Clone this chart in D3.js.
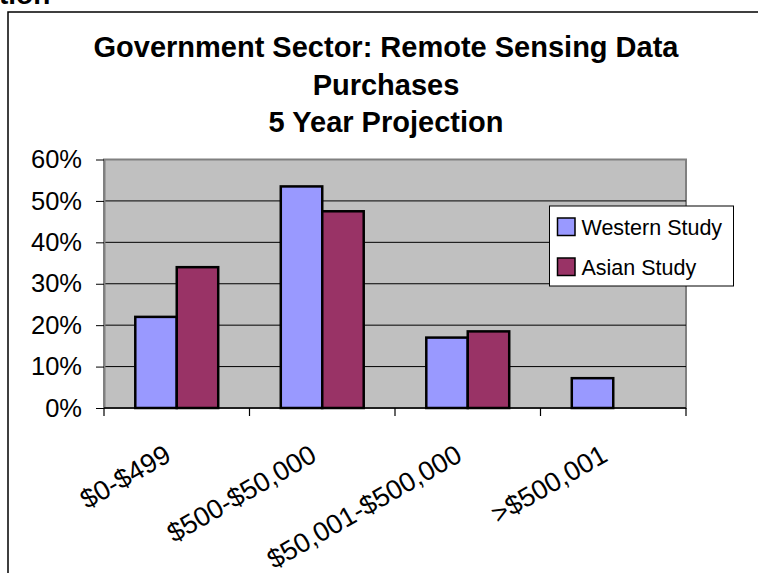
<!DOCTYPE html>
<html>
<head>
<meta charset="utf-8">
<script src="https://cdn.jsdelivr.net/npm/d3@7"></script>
<style>
  html, body { margin: 0; padding: 0; background: #fff; }
  svg { display: block; font-family: Arial, "Liberation Sans", sans-serif; }
</style>
</head>
<body>
<svg id="chart" width="758" height="573"></svg>
<script>
const categories = ["$0-$499", "$500-$50,000", "$50,001-$500,000", ">$500,001"];
const seriesNames = ["Western Study", "Asian Study"];
const western = [22, 53.5, 17, 7.2];
const asian = [34, 47.5, 18.5, null];
const yTicks = [0, 10, 20, 30, 40, 50, 60];
const titleLines = ["Government Sector: Remote Sensing Data", "Purchases", "5 Year Projection"];
const colors = ["#9999FF", "#993366"];

const svg = d3.select("#chart");

// outer frame (extends beyond the captured area)
svg.append("rect").attr("x", 8).attr("y", 12).attr("width", 900).attr("height", 700)
  .attr("fill", "#fff").attr("stroke", "#000").attr("stroke-width", 1.5);

// clipped heading fragment above the frame
svg.append("text").attr("x", -1).attr("y", 4)
  .attr("font-weight", "bold").attr("font-size", 28).text("tion");

const plot = { left: 104, right: 686, top: 159.5, bottom: 408 };

const x0 = d3.scaleBand().domain(categories)
  .range([plot.left, plot.right]).paddingInner(0.43).paddingOuter(0.215);
const x1 = d3.scaleBand().domain(seriesNames).range([0, x0.bandwidth()]);
const y = d3.scaleLinear().domain([0, 60]).range([plot.bottom, plot.top]);

// plot background
svg.append("rect").attr("x", plot.left).attr("y", plot.top)
  .attr("width", plot.right - plot.left).attr("height", plot.bottom - plot.top)
  .attr("fill", "#C0C0C0").attr("stroke", "#808080").attr("stroke-width", 2);

// gridlines
svg.append("g").selectAll("line").data(yTicks.filter(d => d > 0 && d < 60)).join("line")
  .attr("x1", plot.left).attr("x2", plot.right)
  .attr("y1", d => y(d)).attr("y2", d => y(d))
  .attr("stroke", "#000").attr("stroke-width", 1);

// bars
const rows = categories.map((c, i) => ({ cat: c, vals: [western[i], asian[i]] }));
const groups = svg.append("g").selectAll("g").data(rows).join("g")
  .attr("transform", d => `translate(${x0(d.cat)},0)`);
groups.selectAll("rect")
  .data(d => d.vals.map((v, j) => ({ name: seriesNames[j], v, j })).filter(e => e.v != null))
  .join("rect")
  .attr("x", d => x1(d.name)).attr("width", x1.bandwidth())
  .attr("y", d => y(d.v)).attr("height", d => y(0) - y(d.v))
  .attr("fill", d => colors[d.j]).attr("stroke", "#000").attr("stroke-width", 2.5);

// y axis
const yAxis = svg.append("g").attr("transform", `translate(${plot.left},0)`)
  .call(d3.axisLeft(y).tickValues(yTicks).tickFormat(d => d + "%")
    .tickSize(8).tickSizeOuter(0).tickPadding(14));
yAxis.select(".domain").attr("stroke", "#808080").attr("stroke-width", 2);
yAxis.selectAll(".tick line").attr("stroke", "#000");
yAxis.selectAll("text").attr("font-size", 25.5).attr("fill", "#000")
  .attr("font-family", "Arial, 'Liberation Sans', sans-serif");

// x axis: ticks at category boundaries
const gap = (x0.step() - x0.bandwidth()) / 2;
const bounds = categories.map(c => x0(c) - gap).concat([plot.right]);
const xg = svg.append("g");
xg.append("line").attr("x1", plot.left).attr("x2", plot.right)
  .attr("y1", plot.bottom).attr("y2", plot.bottom).attr("stroke", "#000").attr("stroke-width", 1.5);
xg.selectAll("line.tk").data(bounds).join("line").attr("class", "tk")
  .attr("x1", d => d).attr("x2", d => d).attr("y1", plot.bottom).attr("y2", plot.bottom + 8)
  .attr("stroke", "#000").attr("stroke-width", 1.2);
xg.selectAll("text").data(categories).join("text")
  .attr("transform", d => `translate(${x0(d) + x0.bandwidth() / 2 - 4},${plot.bottom + 52}) rotate(-30)`)
  .attr("text-anchor", "end").attr("font-size", 27).attr("fill", "#000").text(d => d);

// title
svg.append("g").selectAll("text").data(titleLines).join("text")
  .attr("x", 386).attr("y", (d, i) => 57 + i * 37.5)
  .attr("text-anchor", "middle").attr("font-weight", "bold").attr("font-size", 29)
  .text(d => d);

// legend
const lg = svg.append("g").attr("transform", "translate(549.5,206)");
lg.append("rect").attr("width", 184).attr("height", 80)
  .attr("fill", "#fff").attr("stroke", "#000").attr("stroke-width", 1);
const li = lg.selectAll("g").data(seriesNames).join("g")
  .attr("transform", (d, i) => `translate(8,${12 + i * 40})`);
li.append("rect").attr("width", 17.5).attr("height", 17.5)
  .attr("fill", (d, i) => colors[i]).attr("stroke", "#000").attr("stroke-width", 1.5);
li.append("text").attr("x", 24).attr("y", 16.5).attr("font-size", 21.5).attr("fill", "#000").text(d => d);
</script>
</body>
</html>
